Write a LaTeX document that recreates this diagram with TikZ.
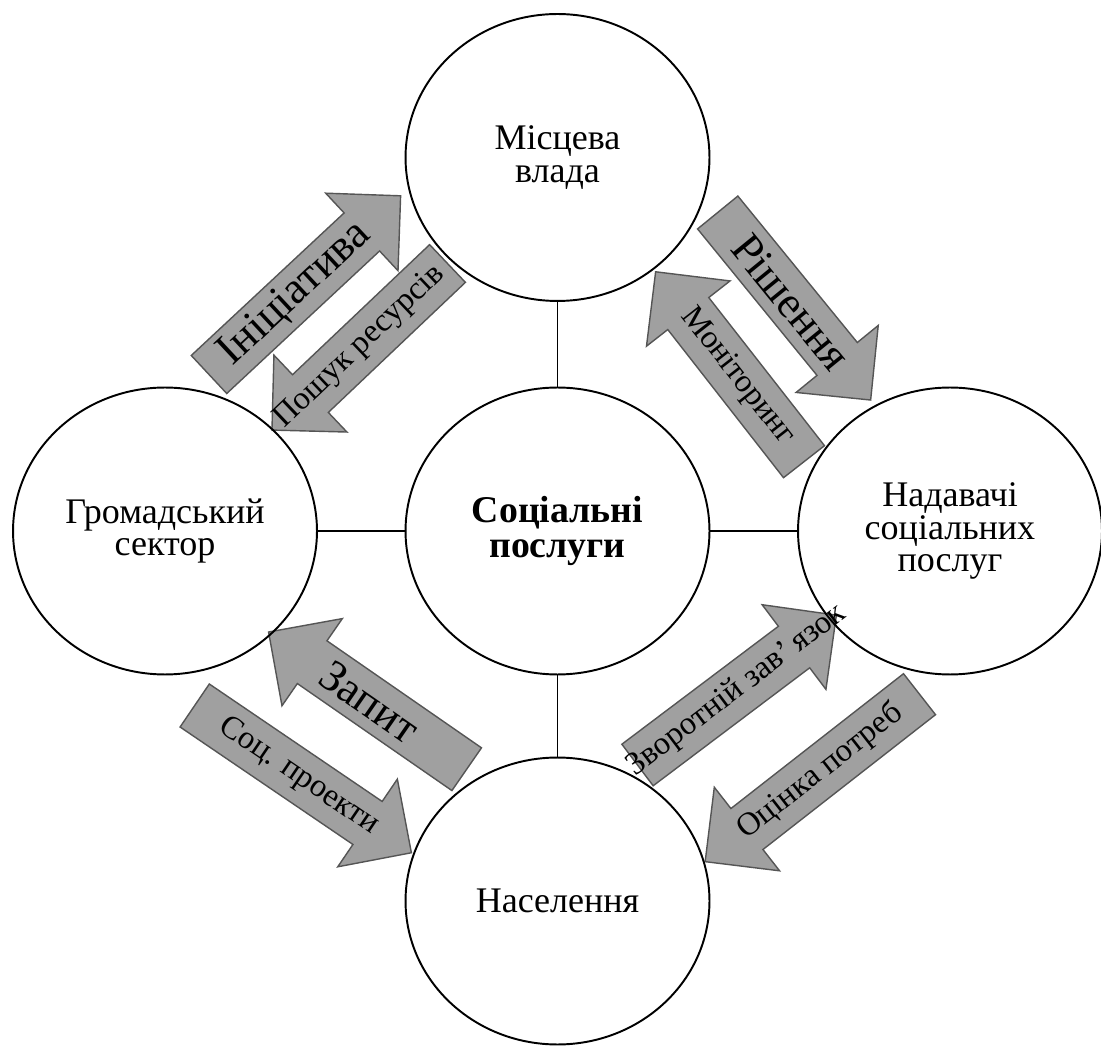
\documentclass[tikz,border=0pt]{standalone}
\usepackage{fontspec}
\setmainfont{Liberation Serif}
\usetikzlibrary{shapes.geometric}
\definecolor{arrowfill}{RGB}{160,160,160}
\definecolor{arrowline}{RGB}{85,85,85}
\begin{document}
\begin{tikzpicture}[x = 0.02cm, y = 0.02cm,
        party/.style = {draw, ellipse, line width = 1.1pt, minimum width = 6.08cm, minimum height = 5.74cm,
            inner sep = 0pt, align = center, font = \fontsize{20.5}{18.5}\selectfont},
        link/.style = {line width = 1.1pt},
        flow/.style = {draw = arrowline, fill = arrowfill, line width = 0.8pt},
        flowtext/.style = {transform shape, inner sep = 0pt, font = \fontsize{18.5}{18.5}\selectfont},
        bigtext/.style = {flowtext, font = \fontsize{25.5}{25.5}\selectfont}]
    \useasboundingbox (0,0) rectangle (1101,1045);
    \begin{scope}[shift = {(209,670.5)}, rotate = 43]
        \draw[flow] (0,-26) -- ++(209,0) -- ++(0,-27) -- ++(53,53) -- ++(-53,53) -- ++(0,-27) -- (0,26) -- cycle;
        \node[bigtext] (ini) at (118,0) {Ініціатива};
    \end{scope}
    \begin{scope}[shift = {(447.5,781.5)}, rotate = 43.5]
        \draw[flow] (0,-26) -- ++(-189,0) -- ++(0,-27) -- ++(-53,53) -- ++(53,53) -- ++(0,-27) -- (0,26) -- cycle;
        \node[flowtext] (poshuk) at (-121,0) {Пошук ресурсів};
    \end{scope}
    \begin{scope}[shift = {(717.7,832.5)}, rotate = -50.8]
        \draw[flow] (0,-26) -- ++(189,0) -- ++(0,-27) -- ++(53,53) -- ++(-53,53) -- ++(0,-27) -- (0,26) -- cycle;
        \node[bigtext] (rish) at (116,0) {Рішення};
    \end{scope}
    \begin{scope}[shift = {(804,583.3)}, rotate = -52]
        \draw[flow] (0,-26) -- ++(-188,0) -- ++(0,-27) -- ++(-53,53) -- ++(53,53) -- ++(0,-27) -- (0,26) -- cycle;
        \node[flowtext] (monit) at (-108,0) {Моніторинг};
    \end{scope}
    \begin{scope}[shift = {(466.7,275.8)}, rotate = -34.7]
        \draw[flow] (0,-26) -- ++(-188,0) -- ++(0,-27) -- ++(-53,53) -- ++(53,53) -- ++(0,-27) -- (0,26) -- cycle;
        \node[bigtext] (zapyt) at (-118,0) {Запит};
    \end{scope}
    \begin{scope}[shift = {(194.7,339.5)}, rotate = -34.2]
        \draw[flow] (0,-26) -- ++(209,0) -- ++(0,-27) -- ++(53,53) -- ++(-53,53) -- ++(0,-27) -- (0,26) -- cycle;
        \node[flowtext] (socpr) at (126,0) {Соц. проекти};
    \end{scope}
    \begin{scope}[shift = {(637.5,280)}, rotate = 37]
        \draw[flow] (0,-26) -- ++(196,0) -- ++(0,-27) -- ++(53,53) -- ++(-53,53) -- ++(0,-27) -- (0,26) -- cycle;
        \node[flowtext] (zvor) at (124,0) {Зворотній зав’\,язок};
    \end{scope}
    \begin{scope}[shift = {(919.5,350.8)}, rotate = 38]
        \draw[flow] (0,-26) -- ++(-219,0) -- ++(0,-27) -- ++(-53,53) -- ++(53,53) -- ++(0,-27) -- (0,26) -- cycle;
        \node[flowtext] (ocinka) at (-126,0) {Оцінка потреб};
    \end{scope}
    \node[party] (vlada) at (557.5,887.5) {Місцева\\влада};
    \node[party, font = \fontsize{21.5}{19.5}\selectfont\bfseries] (posluhy) at (557.5,514) {Соціальні\\послуги};
    \node[party] (hromada) at (165,514) {Громадський\\сектор};
    \node[party] (nadavachi) at (950,514) {Надавачі\\соціальних\\послуг};
    \node[party] (naselennya) at (557.5,144) {Населення};
    \draw[link] (vlada) -- (posluhy);
    \draw[link] (hromada) -- (posluhy);
    \draw[link] (posluhy) -- (nadavachi);
    \draw[link] (posluhy) -- (naselennya);
\end{tikzpicture}
\end{document}
